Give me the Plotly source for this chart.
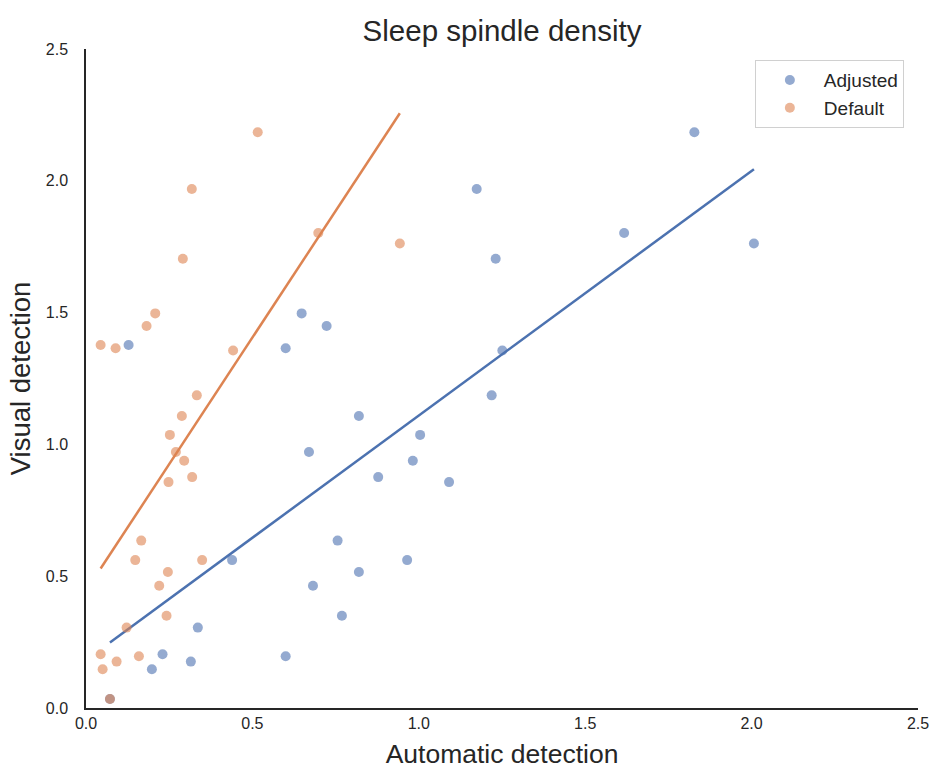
import numpy as np
import plotly.graph_objects as go

# Spindle density per subject: visual scoring vs. automatic detection
visual = [2.184, 1.969, 1.802, 1.762, 1.704, 1.497, 1.449, 1.377, 1.365, 1.356,
          1.186, 1.108, 1.036, 0.971, 0.938, 0.876, 0.857, 0.635, 0.561, 0.561,
          0.516, 0.464, 0.350, 0.305, 0.204, 0.196, 0.176, 0.147, 0.034]
auto_default = [0.516, 0.318, 0.698, 0.943, 0.291, 0.208, 0.182, 0.044, 0.089, 0.442,
                0.333, 0.288, 0.252, 0.270, 0.295, 0.319, 0.248, 0.166, 0.148, 0.349,
                0.246, 0.220, 0.242, 0.122, 0.044, 0.159, 0.092, 0.050, 0.072]
auto_adjusted = [1.828, 1.174, 1.617, 2.007, 1.231, 0.648, 0.723, 0.128, 0.600, 1.251,
                 1.219, 0.820, 1.004, 0.670, 0.982, 0.878, 1.091, 0.756, 0.439, 0.965,
                 0.820, 0.682, 0.769, 0.336, 0.230, 0.600, 0.315, 0.198, 0.072]

series = [("Adjusted", auto_adjusted, "#4C72B0"),
          ("Default", auto_default, "#DD8452")]

FONT = "Arial, 'Liberation Sans', sans-serif"
INK = "#262626"

fig = go.Figure()
for name, xs, color in series:
    xs_arr = np.asarray(xs)
    ys_arr = np.asarray(visual)
    fig.add_trace(go.Scatter(
        x=xs, y=visual, mode="markers", name=name,
        marker=dict(color=color, size=10, opacity=0.6, line=dict(width=0)),
    ))
    # least-squares fit over the range of the data
    slope, intercept = np.polyfit(xs_arr, ys_arr, 1)
    xfit = np.array([xs_arr.min(), xs_arr.max()])
    fig.add_trace(go.Scatter(
        x=xfit, y=slope * xfit + intercept, mode="lines",
        line=dict(color=color, width=2.5), showlegend=False, hoverinfo="skip",
    ))

axis_common = dict(
    range=[0, 2.5], dtick=0.5, tick0=0, tickformat=".1f",
    showgrid=False, zeroline=False, automargin=False,
    showline=True, linecolor=INK, linewidth=1.5,
    tickfont=dict(family=FONT, size=16, color=INK),
)

fig.update_layout(
    width=930, height=769,
    margin=dict(l=86, r=12, t=49, b=61),
    paper_bgcolor="white", plot_bgcolor="white",
    title=dict(text="Sleep spindle density", x=502 / 930, xanchor="center",
               y=1 - 31 / 769, yanchor="middle", yref="container",
               font=dict(family=FONT, size=29.5, color=INK)),
    xaxis=dict(axis_common, ticks="",
               title=dict(text="Automatic detection", standoff=16,
                          font=dict(family=FONT, size=26.5, color=INK))),
    yaxis=dict(axis_common, ticks="outside", tickcolor="rgba(0,0,0,0)", ticklen=13,
               title=dict(text="Visual detection", standoff=7,
                          font=dict(family=FONT, size=27.5, color=INK))),
    legend=dict(x=0.983, y=0.983, xanchor="right", yanchor="top",
                bgcolor="white", bordercolor="#d0d0d0", borderwidth=1,
                itemwidth=58,
                font=dict(family=FONT, size=19, color=INK)),
    showlegend=True,
)

fig.write_html("out.html")
